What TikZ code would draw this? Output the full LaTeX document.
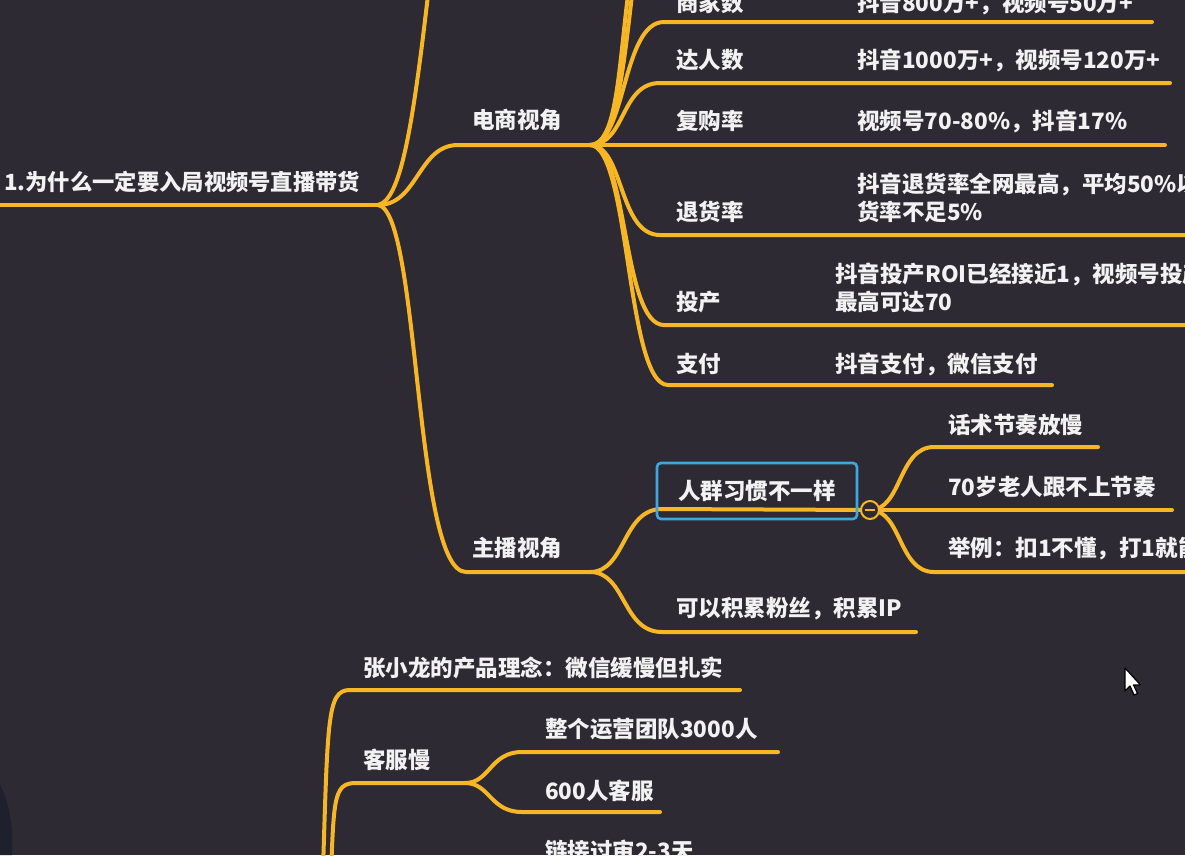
\documentclass[tikz,border=0pt]{standalone}
\usepackage{fontspec}
\setmainfont{Noto Sans CJK SC}
\definecolor{bgc}{RGB}{45,42,51}
\definecolor{lineor}{RGB}{246,182,38}
\definecolor{boxblue}{RGB}{60,168,224}
\definecolor{txt}{RGB}{242,242,242}
\definecolor{silh}{RGB}{30,32,46}
\begin{document}
\begin{tikzpicture}[x=1pt,y=-1pt,
  br/.style={draw=lineor, line width=4pt, line cap=round},
  lbl/.style={anchor=west, inner sep=0pt, text=txt, font=\fontsize{22.5}{28.5}\selectfont\bfseries, align=left}]
\useasboundingbox (0,0) rectangle (1185,855);
\clip (0,0) rectangle (1185,855);
\fill[bgc] (0,0) rectangle (1185,855);
% person silhouette at bottom-left
\fill[silh] (0,785) .. controls (9,800) and (14,830) .. (12,855) -- (0,855) -- cycle;

% coordinates
\coordinate (R) at (378,205);
\coordinate (rootL) at (0,205);
\coordinate (E) at (590,145);
\coordinate (Z) at (590,572);
\coordinate (C) at (870,510);
\coordinate (K) at (465,783);
\coordinate (up1) at (432,-40);
\coordinate (eup1) at (636,-60);
\coordinate (eup2) at (646,-120);
\coordinate (b1) at (322,900);
\coordinate (b2) at (330,900);

% root
\node[lbl, font=\fontsize{22.3}{28}\selectfont\bfseries] (root) at (4,182) {1.为什么一定要入局视频号直播带货};
\draw[br, line width=4.5pt] (rootL) -- (R);
\draw[br] (R) .. controls (402,200) and (414,120) .. (up1);
\draw[br] (R) .. controls (418,205) and (418,145) .. (458,145) -- (E);
\draw[br] (R) .. controls (420,210) and (414,572) .. (466,572) -- (Z);

% level 2
\node[lbl] (ds) at (472,120) {电商视角};
\node[lbl] (zb) at (472,548) {主播视角};

% 电商视角 children
\draw[br] (E) .. controls (622,145) and (618,40) .. (eup1);
\draw[br] (E) .. controls (624,145) and (626,20) .. (eup2);
\draw[br] (E) .. controls (626,145) and (622,22) .. (664,22) -- (1152,22);
\draw[br] (E) .. controls (626,145) and (620,83) .. (660,83) -- (1170,83);
\draw[br] (E) -- (1165,145);
\draw[br] (E) .. controls (624,145) and (618,235) .. (660,235) -- (1200,235);
\draw[br] (E) .. controls (628,145) and (622,325) .. (664,325) -- (1200,325);
\draw[br] (E) .. controls (630,145) and (626,385) .. (668,385) -- (1052,385);

\node[lbl] (sjs) at (676,3) {商家数};
\node[lbl] (sjsv) at (857,3) {抖音800万+，视频号50万+};
\node[lbl] (drs) at (676,60) {达人数};
\node[lbl] (drsv) at (857,60) {抖音1000万+，视频号120万+};
\node[lbl] (fgl) at (676,121) {复购率};
\node[lbl] (fglv) at (857,121) {视频号70-80\%，抖音17\%};
\node[lbl] (thl) at (676,212) {退货率};
\node[lbl] (thlv) at (857,198) {抖音退货率全网最高，平均50\%以\\货率不足5\%};
\node[lbl] (tc) at (676,302) {投产};
\node[lbl] (tcv) at (835,288) {抖音投产ROI已经接近1，视频号投产\\最高可达70};
\node[lbl] (zf) at (676,364) {支付};
\node[lbl] (zfv) at (835,364) {抖音支付，微信支付};

% 主播视角 children
\draw[br] (Z) .. controls (626,572) and (622,509) .. (662,509) -- (C);
\draw[br] (Z) .. controls (626,572) and (622,632) .. (662,632) -- (916,632);
\node[draw=boxblue, line width=2.6pt, rounded corners=4pt, minimum width=200pt, minimum height=56pt, inner sep=0pt, text=txt, font=\fontsize{22.5}{28.5}\selectfont\bfseries] (rq) at (757,491) {人群习惯不一样};
\node[lbl] (jl) at (676,609) {可以积累粉丝，积累IP};

\draw[br] (C) .. controls (902,510) and (898,447) .. (934,447) -- (1098,447);
\draw[br] (C) -- (1172,510);
\draw[br] (C) .. controls (902,510) and (898,572) .. (934,572) -- (1200,572);
\node[circle, draw=lineor, fill=bgc, line width=2pt, minimum size=18pt, inner sep=0pt] (cc) at (C) {};
\draw[lineor, line width=2pt] ([xshift=-5pt]cc.center) -- ([xshift=5pt]cc.center);

\node[lbl] (hs) at (948,425) {话术节奏放慢};
\node[lbl] (lr) at (948,487) {70岁老人跟不上节奏};
\node[lbl] (jli) at (948,549) {举例：扣1不懂，打1就能};

% bottom section
\draw[br] (b1) .. controls (328,720) and (326,690) .. (350,690) -- (740,690);
\draw[br] (b2) .. controls (334,800) and (332,783) .. (356,783) -- (K);
\draw[br] (K) .. controls (490,783) and (490,752) .. (522,752) -- (778,752);
\draw[br] (K) .. controls (490,783) and (490,812) .. (522,812) -- (660,812);
\node[lbl] (zxl) at (363,668) {张小龙的产品理念：微信缓慢但扎实};
\node[lbl] (kfm) at (363,760) {客服慢};
\node[lbl] (yy) at (545,729) {整个运营团队3000人};
\node[lbl] (kf) at (545,791) {600人客服};
\node[lbl] (lj) at (545,851) {链接过审2-3天};

% mouse cursor
\coordinate (cur) at (1125,668);
\filldraw[fill=white, draw=black, line width=1.2pt, line join=round]
  (cur) -- ++(0,23) -- ++(5,-5) -- ++(4,9) -- ++(3.5,-1.5) -- ++(-4,-8.5) -- ++(7,0) -- cycle;
\end{tikzpicture}
\end{document}
